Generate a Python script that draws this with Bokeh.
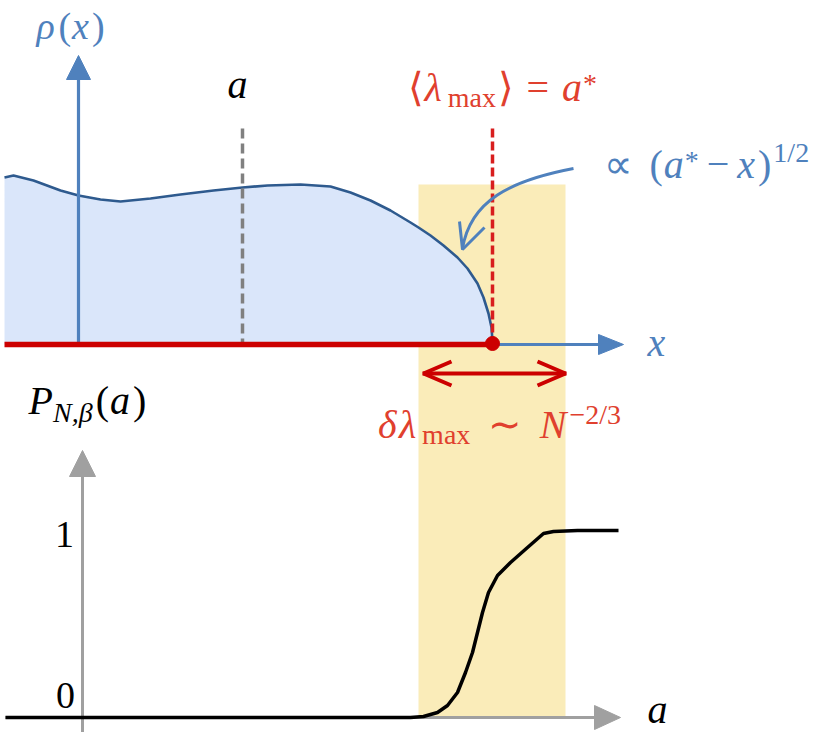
from bokeh.plotting import figure
from bokeh.models import Range1d
from bokeh.embed import file_html
from bokeh.resources import INLINE
from bokeh.core.properties import value

# ---- data (schematic, in picture units: x to the right, y downward) ----
# density rho(x): top edge of the filled region
rho_x = [4, 13, 33, 60, 78, 100, 120, 150, 180, 213, 242, 267, 300, 330, 350,
         370, 390, 410, 418, 430, 443, 457, 467, 477, 483, 488, 491, 492]
rho_y = [177, 175, 180, 190, 195, 199, 201, 198, 194, 190, 187, 185, 184, 186, 192,
         200, 210, 222, 227, 235, 245, 257, 268, 283, 297, 313, 327, 341]
rho_base = 344

# cumulative distribution P_{N,beta}(a)
cdf_x = [5, 410, 423, 437, 447, 457, 465, 472, 477, 482, 488, 497, 510, 527,
         543, 553, 577, 618]
cdf_y = [717, 717, 716, 712, 705, 692, 672, 652, 632, 612, 592, 575, 562, 547,
         533, 531, 530, 530]

a_pos = 242          # position of the cut "a"
a_star = 492         # <lambda_max> = a*
band = [418, 565]    # width of the fluctuation window delta lambda_max
tick_labels = ["1", "0"]

FONT = "Liberation Serif"
BLUE = "#4f81bd"
DBLUE = "#2e5a8e"
FILL = "#dae6fa"
RED = "#cc0000"
TRED = "#e0402e"
YEL = "#faecb9"
GREY = "#a0a0a0"
S = 40      # main text size
SS = 28     # sub/superscript size

p = figure(width=814, height=732, x_range=Range1d(0, 814), y_range=Range1d(732, 0),
           x_axis_location=None, y_axis_location=None, toolbar_location=None,
           output_backend="svg", min_border=0, outline_line_color=None,
           background_fill_color="white")
p.grid.visible = False

# fluctuation band
p.quad(left=[band[0]], right=[band[1]], top=[184], bottom=[717],
       fill_color=YEL, line_color=None)

# density fill + curve
p.varea(x=rho_x, y1=rho_y, y2=[rho_base] * len(rho_x), fill_color=FILL)
p.line(rho_x, rho_y, line_color=DBLUE, line_width=2.6)

# rho axis (vertical, blue)
p.line([78, 78], [342, 76], line_color=BLUE, line_width=3.2)
p.patch([78, 66, 90], [55, 79, 79], fill_color=BLUE, line_color=BLUE)

# dashed markers
p.line([a_pos, a_pos], [128, 342], line_color="#808080", line_width=3.5, line_dash="10 5")
p.line([a_star, a_star], [128, 342], line_color="#d81e1e", line_width=3.5, line_dash="9 4")

# x axis: red part up to a*, blue continuation with arrowhead
p.line([a_star, 600], [344, 344], line_color=BLUE, line_width=3.2)
p.patch([623, 598, 598], [344, 334, 354], fill_color=BLUE, line_color=BLUE)
p.line([4, a_star], [344, 344], line_color=RED, line_width=5.5)
p.scatter([a_star], [343], size=14, fill_color=RED, line_color=RED)

# curved blue pointer arrow
p.bezier(x0=[573], y0=[168], x1=[462], y1=[248], cx0=[510], cy0=[180],
         cx1=[470], cy1=[200], line_color=BLUE, line_width=3)
p.line([459, 462, 484], [221, 249, 227], line_color=BLUE, line_width=3)

# red double arrow
p.line([band[0] + 4, band[1] + 1], [373, 373], line_color=RED, line_width=4)
p.line([451, 423, 451], [361, 373, 385], line_color=RED, line_width=4)
p.line([537, 565, 537], [361, 373, 385], line_color=RED, line_width=4)

# bottom panel axes (grey)
p.line([82, 82], [740, 474], line_color=GREY, line_width=3)
p.patch([82, 69, 95], [450, 476, 476], fill_color=GREY, line_color=GREY)
p.line([5, 596], [717, 717], line_color=GREY, line_width=3)
p.patch([620, 594, 594], [717, 705, 729], fill_color=GREY, line_color=GREY)

# CDF curve
p.line(cdf_x, cdf_y, line_color="black", line_width=3.5)


# ---- text (pieces laid out in a row, approximate glyph advances) ----
W_REG = {"(": .333, ")": .333, "=": .564, " ": .25, "/": .278, "m": .778,
         "a": .444, "x": .5, ",": .25, "−": .564, "*": .5, "⟨": .39, "⟩": .39,
         "∝": .838, "∼": .838}
W_IT = {"ρ": .5, "x": .444, "a": .5, "λ": .556, "δ": .5, "N": .667, "P": .611,
        "β": .5, ",": .25}
BASE_SHIFT = 0.33   # empirical offset between requested and drawn baseline


def width(s, style, size):
    table = W_IT if style == "italic" else W_REG
    return sum(table.get(ch, .5) for ch in s) * size


def label(x, y, s, color, size=S, style="normal", align="left"):
    p.text(x=[x], y=[y - BASE_SHIFT * size], text=[s], text_color=color,
           text_font=value(FONT), text_font_size=f"{size}px",
           text_font_style=style, text_align=align, text_baseline="alphabetic")


def row(cx, base, color, pieces):
    total = sum(width(t, st, sz) + g for t, st, sz, dy, g in pieces)
    x = cx - total / 2
    for t, st, sz, dy, g in pieces:
        x += g
        label(x, base + dy, t, color, size=sz, style=st)
        x += width(t, st, sz)


I, N_ = "italic", "normal"
# rho(x)
row(70, 38, BLUE, [("ρ", I, 38, 0, 0), ("(", N_, 38, 0, 3), ("x", I, 38, 0, 1),
                   (")", N_, 38, 0, 3)])
# a
label(237, 97, "a", "black", style=I, align="center")
# <lambda_max> = a*
row(502, 100, TRED, [("⟨", N_, S, 0, 0), ("λ", I, S, 0, 1), ("max", N_, SS, 6, 1),
                     ("⟩", N_, S, 0, 2), ("=", N_, S, 0, 13), ("a", I, S, 0, 13),
                     ("*", N_, SS, -8, 1)])
# propto (a* - x)^{1/2}
row(706, 177, BLUE, [("∝", N_, S, 0, 0), ("(", N_, S, 0, 12), ("a", I, S, 0, 1),
                     ("*", N_, SS, -8, 1), ("−", N_, S, 0, 8), ("x", I, S, 0, 8),
                     (")", N_, S, 0, 3), ("1/2", N_, SS, -16, 2)])
# x
label(647, 355, "x", BLUE, style=I)
# delta lambda_max ~ N^{-2/3}
row(499, 437, TRED, [("δ", I, S, 0, 0), ("λ", I, S, 0, 1), ("max", N_, SS, 6, 1),
                     ("∼", N_, S, 0, 18), ("N", I, S, 0, 18), ("−2/3", N_, SS, -14, 3)])
# P_{N,beta}(a)
row(87, 413, "black", [("P", I, S, 0, 0), ("N,β", I, SS, 8, 0), ("(", N_, S, 0, 3),
                       ("a", I, S, 0, 1), (")", N_, S, 0, 3)])
# tick labels
label(64, 547, tick_labels[0], "black", size=38, align="center")
label(65, 708, tick_labels[1], "black", size=38, align="center")
# a (bottom axis)
label(647, 722, "a", "black", style=I)

open("out.html", "w").write(file_html(p, INLINE))
